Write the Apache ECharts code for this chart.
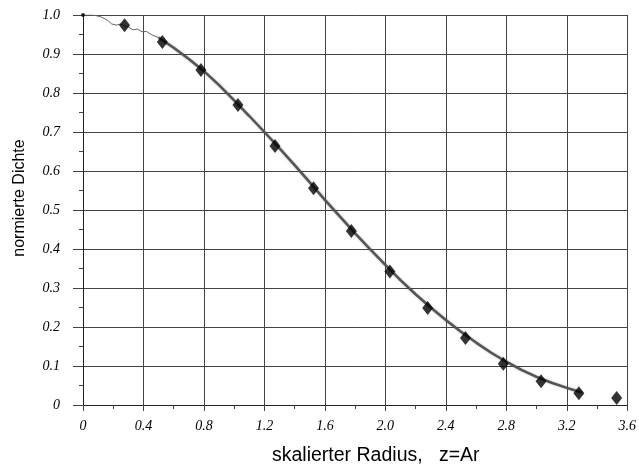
<!DOCTYPE html>
<html>
<head>
<meta charset="utf-8">
<script src="https://cdn.jsdelivr.net/npm/echarts@6/dist/echarts.min.js"></script>
<style>html,body{margin:0;padding:0;background:#fff}#c{width:639px;height:467px}</style>
</head>
<body>
<div id="c"></div>
<script>
// Curve (simulated density profile): thin start part
const curveStartX = [0, 0.05, 0.08, 0.12, 0.16, 0.19, 0.22, 0.25, 0.28, 0.3, 0.33, 0.36, 0.39, 0.42, 0.45, 0.5];
const curveStartY = [1.0, 1.0, 0.999, 0.995, 0.987, 0.977, 0.974, 0.977, 0.971, 0.969, 0.962, 0.964, 0.957, 0.958, 0.95, 0.942];
// thick (noisy) main part
const curveMainX = [0.5, 0.6, 0.7, 0.8, 0.9, 1.0, 1.1, 1.2, 1.3, 1.4, 1.5, 1.6, 1.7, 1.8, 1.9, 2.0, 2.1, 2.2, 2.3, 2.4, 2.5, 2.6, 2.7, 2.8, 2.9, 3.0, 3.1, 3.2, 3.3];
const curveMainY = [0.942, 0.916, 0.887, 0.856, 0.82, 0.781, 0.741, 0.7, 0.658, 0.615, 0.571, 0.526, 0.483, 0.44, 0.399, 0.359, 0.32, 0.284, 0.25, 0.218, 0.188, 0.16, 0.134, 0.111, 0.09, 0.072, 0.057, 0.044, 0.032];
// Diamond markers
const markX = [0.275, 0.525, 0.78, 1.025, 1.27, 1.525, 1.775, 2.03, 2.28, 2.53, 2.78, 3.03, 3.28, 3.53];
const markY = [0.974, 0.931, 0.859, 0.769, 0.664, 0.556, 0.446, 0.342, 0.249, 0.172, 0.106, 0.061, 0.03, 0.018];
// Start point
const startX = [0];
const startY = [1.0];
const xTitle = 'skalierter Radius,   z=Ar';
const yTitle = 'normierte Dichte';

const chart = echarts.init(document.getElementById('c'), null, {renderer: 'canvas'});
const zip = (a, b) => a.map((v, i) => [v, b[i]]);
const labelFont = {fontFamily: '"Liberation Serif", "DejaVu Serif", serif', fontStyle: 'italic', fontSize: 14, color: '#000'};
chart.setOption({
  animation: false,
  backgroundColor: '#fff',
  grid: {left: 83, right: 7, top: 15, bottom: 62, containLabel: false},
  xAxis: {
    type: 'value', min: 0, max: 3.6, interval: 0.4,
    axisLine: {show: true, onZero: false, lineStyle: {color: '#222', width: 1}},
    axisTick: {show: true, inside: false, length: 6, lineStyle: {color: '#444'}},
    minorTick: {show: true, splitNumber: 2, length: 4, lineStyle: {color: '#444'}},
    splitLine: {show: true, lineStyle: {color: '#444', width: 1}},
    axisLabel: Object.assign({margin: 14, formatter: v => v === 0 ? '0' : v.toFixed(1)}, labelFont)
  },
  yAxis: {
    type: 'value', min: 0, max: 1.0, interval: 0.1,
    axisLine: {show: true, onZero: false, lineStyle: {color: '#222', width: 1}},
    axisTick: {show: true, inside: false, length: 10, lineStyle: {color: '#444'}},
    minorTick: {show: true, splitNumber: 2, length: 4, lineStyle: {color: '#444'}},
    splitLine: {show: true, lineStyle: {color: '#444', width: 1}},
    axisLabel: Object.assign({margin: 23, formatter: v => v === 0 ? '0' : v.toFixed(1)}, labelFont)
  },
  graphic: [
    {type: 'text', left: 272, top: 446, style: {text: xTitle, font: '19.5px "Liberation Sans", Arial, sans-serif', fill: '#000'}},
    {type: 'text', x: 20, y: 198, rotation: Math.PI / 2, style: {text: yTitle, font: '16px "Liberation Sans", Arial, sans-serif', fill: '#000', align: 'center', verticalAlign: 'middle'}}
  ],
  series: [
    {type: 'line', data: zip(curveStartX, curveStartY), showSymbol: false, symbol: 'none',
     lineStyle: {color: '#666', width: 1}, z: 2},
    {type: 'line', data: zip(curveMainX, curveMainY), showSymbol: false, symbol: 'none',
     lineStyle: {color: '#555', width: 2.5, shadowColor: 'rgba(0,0,0,0.35)', shadowBlur: 2}, z: 2},
    {type: 'scatter', data: zip(markX, markY), symbol: 'diamond', symbolSize: [11, 14],
     itemStyle: {color: '#000'}, z: 3},
    {type: 'scatter', data: zip(startX, startY), symbol: 'circle', symbolSize: 4,
     itemStyle: {color: '#000'}, z: 3}
  ]
});
</script>
</body>
</html>
